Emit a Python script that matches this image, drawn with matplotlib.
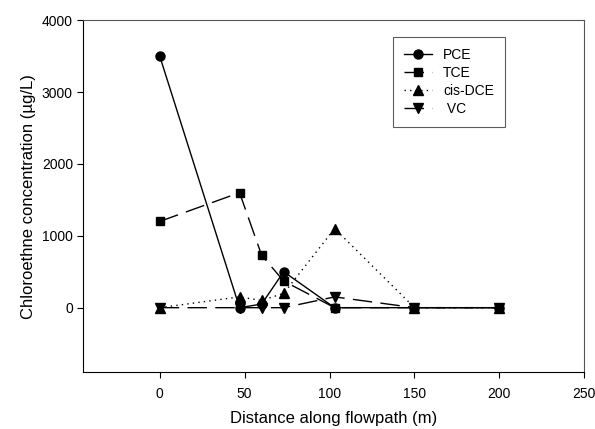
import matplotlib.pyplot as plt

plt.rcParams['font.family'] = ['Liberation Sans', 'DejaVu Sans']

# distance along flowpath (m)
distance = [0, 47, 60, 73, 103, 150, 200]

# concentrations (ug/L)
pce = [3500, 0, 50, 500, 0, 0, 0]
tce = [1200, 1600, 730, 370, 0, 0, 0]
cis_dce = [0, 150, 100, 200, 1100, 0, 0]
vc = [0, 0, 0, 0, 150, 0, 0]

x_ticks = [0, 50, 100, 150, 200, 250]
y_ticks = [0, 1000, 2000, 3000, 4000]

fig = plt.figure(figsize=(5.95, 4.29), dpi=100)
ax = fig.add_axes([0.14, 0.132, 0.842, 0.821])

ms = 6.5
ax.plot(distance, pce, color='black', lw=1, marker='o', ms=ms, label='PCE')
ax.plot(distance, tce, color='black', lw=1, marker='s', ms=ms - 0.5,
        dashes=(14, 6), label='TCE')
ax.plot(distance, cis_dce, color='black', lw=1, marker='^', ms=ms,
        dashes=(1, 3), label='cis-DCE')
ax.plot(distance, vc, color='black', lw=1, marker='v', ms=ms,
        dashes=(14, 6), label=' VC')

ax.set_xlim(-45, 250)
ax.set_ylim(-900, 4000)
ax.set_xticks(x_ticks)
ax.set_yticks(y_ticks)
ax.tick_params(labelsize=10, length=4, width=0.8, colors='black')
ax.tick_params(axis='x', pad=6.5)

ax.set_xlabel('Distance along flowpath (m)', fontsize=12, labelpad=7)
ax.set_ylabel('Chloroethne concentration (\u00b5g/L)', fontsize=12, labelpad=4.5)

for side in ['top', 'right']:
    ax.spines[side].set_color('#555555')

leg = ax.legend(loc='upper left', bbox_to_anchor=(0.618, 0.953), fontsize=10,
                frameon=True, fancybox=False, edgecolor='#333333',
                handlelength=2.0, handletextpad=0.8, labelspacing=0.3,
                borderpad=0.8, borderaxespad=0)
leg.get_frame().set_linewidth(0.8)

fig.savefig('out.png', dpi=100)
